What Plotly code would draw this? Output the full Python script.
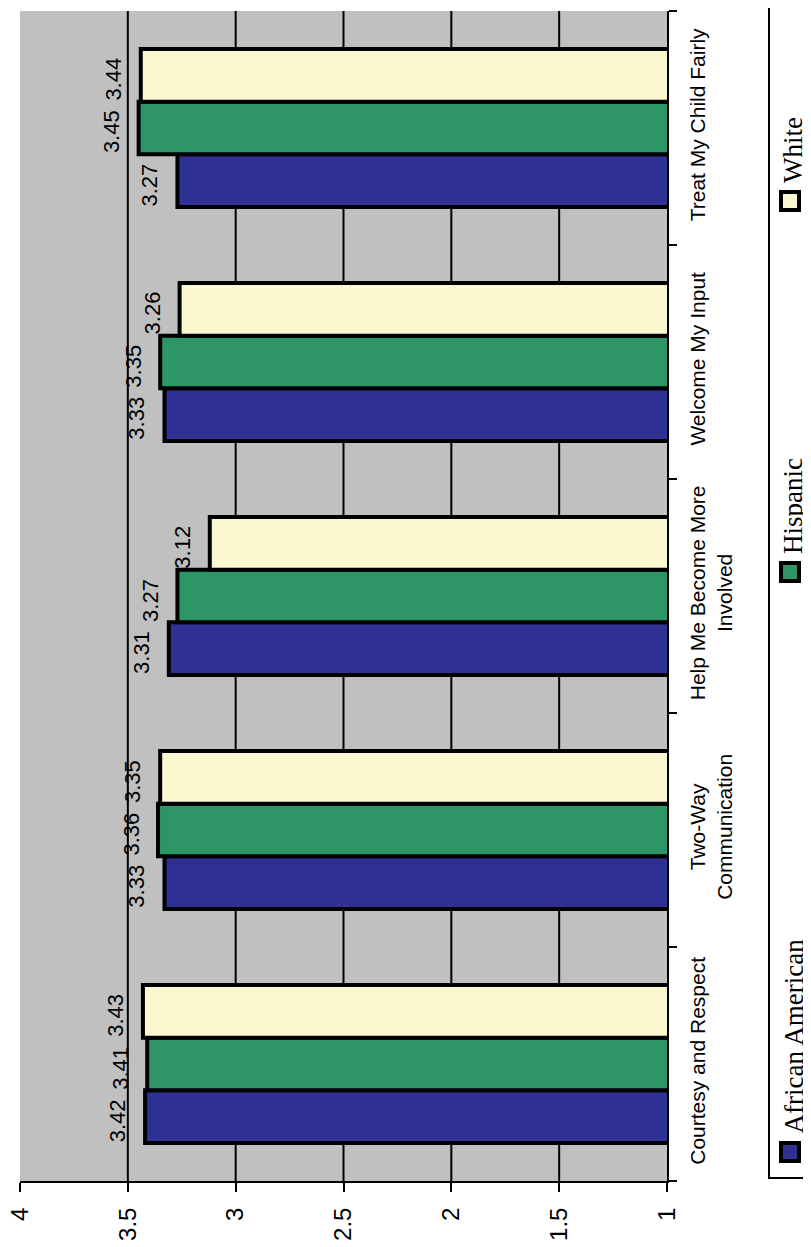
import plotly.graph_objects as go

categories = ["Courtesy and Respect", "Two-Way<br>Communication", "Help Me Become More<br>Involved",
              "Welcome My Input", "Treat My Child Fairly"]
series_names = ["African American", "Hispanic", "White"]
african_american = [3.42, 3.33, 3.31, 3.33, 3.27]
hispanic = [3.41, 3.36, 3.27, 3.35, 3.45]
white = [3.43, 3.35, 3.12, 3.26, 3.44]
value_ticks = [1, 1.5, 2, 2.5, 3, 3.5, 4]
value_tick_labels = ["1", "1.5", "2", "2.5", "3", "3.5", "4"]

colors = ["#2E3192", "#2E9566", "#FBF8D0"]
series = [african_american, hispanic, white]

# page body margin offset (browser default 8px)
OFF = 8
W, H = 811 - OFF, 1247 - OFF
L, T = 20 - OFF, 11 - OFF
R, B = W - (667 - OFF), H - (1181 - OFF)
PW, PH = W - L - R, H - T - B
BARGAP = 0.325


def px_x(p):
    return (p - OFF - L) / PW


def px_y(p):
    return (T + PH - (p - OFF)) / PH


fig = go.Figure()
for name, vals, col in zip(series_names, series, colors):
    fig.add_trace(go.Bar(
        y=categories, x=vals, orientation="h", name=name,
        marker=dict(color=col, line=dict(color="black", width=4)),
        showlegend=False,
    ))

# value labels through the axis scales
cat_px = PH / len(categories)
bar_px = cat_px * (1 - BARGAP) / len(series)
annotations = []
for i, vals in enumerate(series):
    for c, v in zip(categories, vals):
        annotations.append(dict(
            x=v, y=c, xref="x", yref="y", text=f"{v:.2f}", showarrow=False,
            textangle=-90, xanchor="right", yanchor="middle",
            xshift=-13, yshift=(i - 1) * bar_px - 4,
            font=dict(family="Liberation Sans, Arial", size=22, color="black"),
        ))

# legend (rotated)
legend_marker_centers = [1152, 572, 201]
for name, col, cy in zip(series_names, colors, legend_marker_centers):
    annotations.append(dict(
        x=px_x(793), y=px_y(cy - 16), xref="paper", yref="paper", text=name,
        showarrow=False, textangle=-90, xanchor="center", yanchor="bottom",
        font=dict(family="Liberation Serif, Times New Roman", size=27, color="black"),
    ))

shapes = []
for v in value_ticks[1:-1]:
    shapes.append(dict(type="line", xref="x", yref="paper", x0=v, x1=v, y0=0, y1=1,
                       line=dict(color="black", width=2), layer="below"))
shapes.append(dict(type="rect", xref="paper", yref="paper", x0=px_x(769), x1=px_x(830),
                   y0=px_y(1178), y1=px_y(-10), line=dict(color="black", width=2),
                   fillcolor="rgba(0,0,0,0)"))
for col, cy in zip(colors, legend_marker_centers):
    shapes.append(dict(type="rect", xref="paper", yref="paper", x0=px_x(781), x1=px_x(799),
                       y0=px_y(cy + 9), y1=px_y(cy - 9), line=dict(color="black", width=4),
                       fillcolor=col))

fig.update_layout(
    width=W, height=H, margin=dict(l=L, r=R, t=T, b=B, pad=0, autoexpand=False),
    barmode="group", bargap=BARGAP, bargroupgap=0,
    plot_bgcolor="#C0C0C0", paper_bgcolor="white",
    font=dict(family="Liberation Sans, Arial", color="black"),
    xaxis=dict(range=[4, 1], tickvals=value_ticks, ticktext=value_tick_labels,
               tickangle=-90, showgrid=False, zeroline=False, automargin=False,
               showline=True, linecolor="black", linewidth=2,
               ticks="outside", ticklen=9, tickwidth=2, tickcolor="black",
               tickfont=dict(size=24), ticklabelstandoff=6,
               ticklabeloverflow="allow"),
    yaxis=dict(side="right", type="category", showgrid=False, zeroline=False,
               automargin=False,
               showline=True, linecolor="black", linewidth=2,
               ticks="outside", ticklen=8, tickwidth=2, tickcolor="black",
               tickson="boundaries", tickangle=-90, tickfont=dict(size=21),
               ticklabelstandoff=11, ticklabeloverflow="allow"),
    annotations=annotations, shapes=shapes, showlegend=False,
)

fig.write_html("out.html")
